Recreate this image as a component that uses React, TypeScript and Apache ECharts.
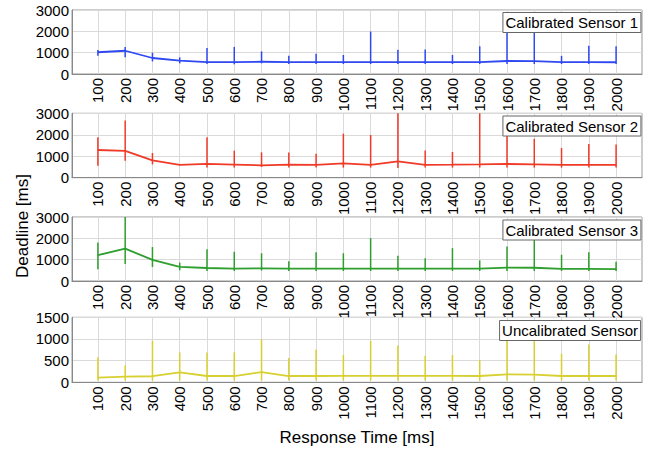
import React, { useEffect, useRef } from "react";
import * as echarts from "echarts";

const responseTimes = [100, 200, 300, 400, 500, 600, 700, 800, 900, 1000, 1100, 1200, 1300, 1400, 1500, 1600, 1700, 1800, 1900, 2000];

const sensorNames = ["Calibrated Sensor 1", "Calibrated Sensor 2", "Calibrated Sensor 3", "Uncalibrated Sensor"];

const s1Mean = [1020, 1090, 750, 630, 560, 560, 575, 560, 560, 560, 560, 560, 560, 560, 560, 610, 600, 560, 555, 550];
const s1Low = [860, 780, 590, 500, 470, 455, 500, 470, 470, 470, 470, 470, 470, 470, 470, 470, 470, 470, 470, 470];
const s1High = [1130, 1270, 1000, 780, 1220, 1270, 1060, 850, 950, 890, 1990, 1140, 1150, 890, 1300, 2100, 2100, 850, 1330, 1300];

const s2Mean = [1290, 1245, 810, 600, 640, 610, 575, 610, 600, 670, 600, 760, 600, 605, 620, 640, 620, 600, 600, 600];
const s2Low = [560, 790, 620, 580, 470, 470, 500, 470, 470, 470, 470, 450, 470, 470, 470, 470, 470, 470, 470, 470];
const s2High = [1880, 2660, 1150, 620, 1880, 1260, 1180, 1170, 1120, 2050, 1990, 3000, 1270, 1200, 3000, 2200, 1810, 1380, 1570, 1550];

const s3Mean = [1210, 1520, 990, 660, 610, 580, 595, 580, 580, 580, 580, 580, 580, 580, 580, 630, 620, 570, 570, 560];
const s3Low = [550, 800, 660, 500, 470, 470, 490, 470, 470, 470, 470, 470, 470, 470, 470, 470, 470, 470, 470, 470];
const s3High = [1800, 3000, 1590, 860, 1490, 1370, 1300, 920, 1350, 1300, 2010, 1180, 1070, 1540, 970, 1620, 2050, 1230, 1350, 900];

const s4Mean = [110, 130, 140, 230, 145, 145, 235, 145, 145, 150, 150, 150, 150, 150, 145, 185, 175, 145, 145, 145];
const s4Low = [40, 40, 40, 40, 40, 40, 40, 40, 40, 40, 40, 40, 40, 40, 40, 40, 40, 40, 40, 40];
const s4High = [580, 385, 960, 690, 690, 690, 990, 560, 750, 630, 960, 850, 615, 630, 515, 1000, 1000, 660, 870, 640];

const yMaxes = [3000, 3000, 3000, 1500];
const yIntervals = [1000, 1000, 1000, 500];

const FONT = "'Liberation Sans', Arial, Helvetica, sans-serif";

export default function App() {
  const ref = useRef<HTMLDivElement>(null);

  useEffect(() => {
    if (!ref.current) return;
    const chart = echarts.init(ref.current, undefined, { renderer: "svg" });

    const means = [s1Mean, s2Mean, s3Mean, s4Mean];
    const lows = [s1Low, s2Low, s3Low, s4Low];
    const highs = [s1High, s2High, s3High, s4High];
    const colors = ["#2f48f2", "#f03a28", "#2e9e2e", "#d8d030"];
    const tops = [10, 113.3, 217, 317.3];
    const heights = [64, 64.4, 64, 65];
    const boxTops = [12, 115.5, 219.5, 320];

    const grids = tops.map((t, i) => ({
      left: 72,
      right: 8,
      top: t,
      height: heights[i],
      show: true,
      borderColor: "#999",
      borderWidth: 1,
      backgroundColor: "#fff",
    }));

    const plain = (v: number) => String(v);

    const xAxes = tops.map((_, i) => ({
      type: "value",
      gridIndex: i,
      min: 5,
      max: 2095,
      axisLine: { show: true, lineStyle: { color: "#888" } },
      axisTick: { show: false, customValues: responseTimes },
      splitLine: { show: true, lineStyle: { color: "#dadada", width: 1 } },
      axisLabel: {
        customValues: responseTimes,
        formatter: plain,
        rotate: 90,
        margin: 4,
        fontSize: 15,
        color: "#000",
        fontFamily: FONT,
      },
    }));

    const yAxes = tops.map((_, i) => ({
      type: "value",
      gridIndex: i,
      min: 0,
      max: yMaxes[i],
      interval: yIntervals[i],
      axisLine: { show: true, lineStyle: { color: "#888" } },
      axisTick: { show: false },
      splitLine: { show: true, lineStyle: { color: "#dadada", width: 1 } },
      axisLabel: { formatter: plain, margin: 3, fontSize: 15, color: "#000", fontFamily: FONT },
    }));

    const series: any[] = [];
    means.forEach((m, i) => {
      series.push({
        type: "custom",
        xAxisIndex: i,
        yAxisIndex: i,
        encode: { x: 0, y: [1, 2] },
        data: responseTimes.map((x, k) => [x, lows[i][k], highs[i][k]]),
        renderItem: (params: any, api: any) => {
          const x = api.value(0);
          const p1 = api.coord([x, api.value(1)]);
          const p2 = api.coord([x, api.value(2)]);
          return {
            type: "line",
            shape: { x1: p1[0], y1: p1[1], x2: p2[0], y2: p2[1] },
            style: { stroke: colors[i], lineWidth: 1.5 },
          };
        },
        z: 2,
      });
      series.push({
        type: "line",
        xAxisIndex: i,
        yAxisIndex: i,
        data: responseTimes.map((x, k) => [x, m[k]]),
        showSymbol: false,
        symbol: "none",
        lineStyle: { color: colors[i], width: 1.8 },
        itemStyle: { color: colors[i] },
        z: 3,
      });
    });

    const titles = sensorNames.map((name, i) => ({
      text: name,
      right: 9,
      top: boxTops[i],
      padding: [2, 3, 2, 3],
      borderColor: "#666",
      borderWidth: 1,
      backgroundColor: "#fff",
      textStyle: { fontSize: 15, fontWeight: "normal", color: "#000", fontFamily: FONT, lineHeight: 17 },
      z: 10,
    }));

    chart.setOption({
      animation: false,
      textStyle: { fontFamily: FONT },
      title: titles,
      grid: grids,
      xAxis: xAxes,
      yAxis: yAxes,
      series,
      graphic: [
        {
          type: "text",
          x: 22,
          y: 226,
          rotation: Math.PI / 2,
          style: {
            text: "Deadline [ms]",
            fontSize: 17,
            fontFamily: FONT,
            fill: "#000",
            textAlign: "center",
            textVerticalAlign: "middle",
          },
        },
        {
          type: "text",
          x: 357,
          y: 437,
          style: {
            text: "Response Time [ms]",
            fontSize: 17,
            fontFamily: FONT,
            fill: "#000",
            textAlign: "center",
            textVerticalAlign: "middle",
          },
        },
      ],
    });

    return () => chart.dispose();
  }, []);

  return (
    <div
      ref={ref}
      style={{ position: "fixed", left: 0, top: 0, width: 650, height: 450, background: "#fff" }}
    />
  );
}
